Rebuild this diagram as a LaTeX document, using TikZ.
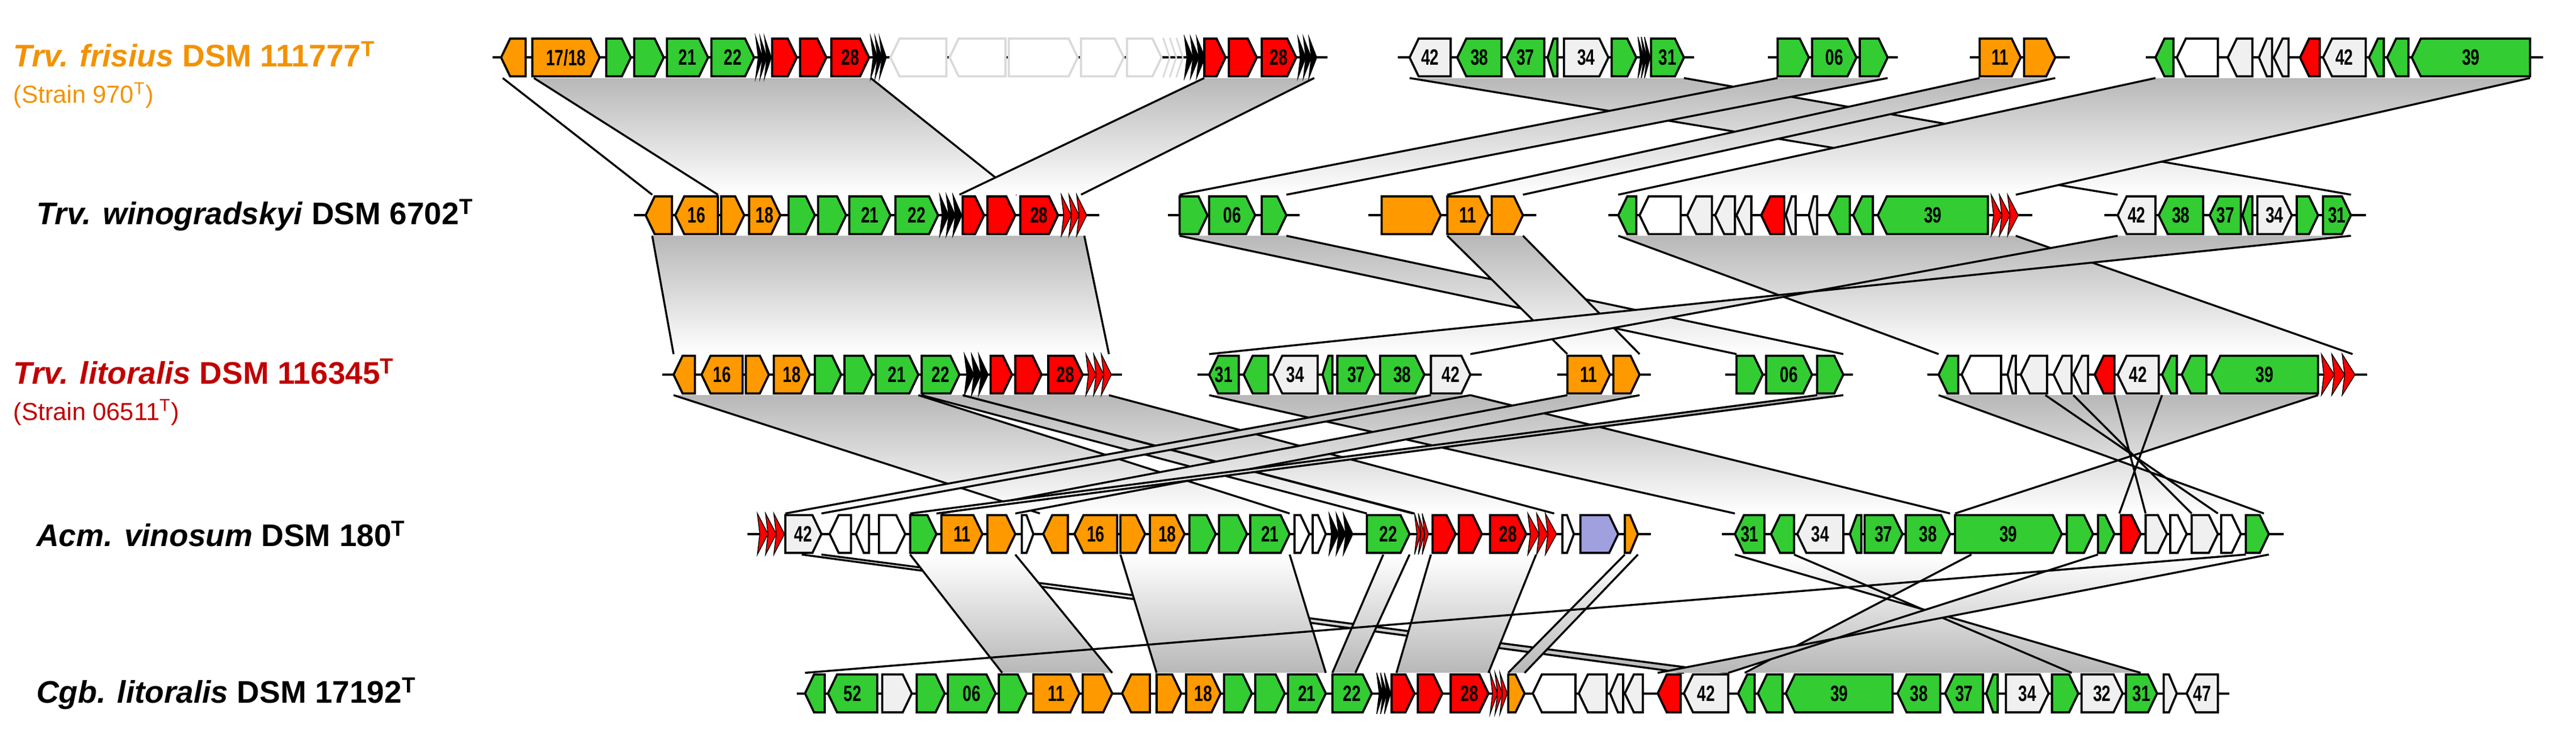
\documentclass[tikz,border=0pt]{standalone}
\usepackage{fontspec}
\setmainfont{Liberation Sans}
\definecolor{gG}{HTML}{33CC33}
\definecolor{gO}{HTML}{FF9900}
\definecolor{gR}{HTML}{FF0000}
\definecolor{gW}{HTML}{FFFFFF}
\definecolor{gP}{HTML}{F0F0F0}
\definecolor{gU}{HTML}{9FA0DD}
\definecolor{labO}{HTML}{F39200}
\definecolor{labR}{HTML}{C00000}
\tikzset{genestyle/.style={draw=black,line width=1.3pt,line join=miter},
 numlab/.style={font=\fontsize{13.5}{13.5}\selectfont\bfseries,inner sep=0pt},
 bandline/.style={line width=1.2pt},
 backbone/.style={line width=1.4pt},
 rowlab/.style={anchor=west,inner sep=0pt,font=\fontsize{19}{22}\selectfont\bfseries},
 sublab/.style={anchor=west,inner sep=0pt,font=\fontsize{15}{18}\selectfont}}
\newcommand\gene[6]{%
 \pgfmathsetmacro\gtl{min(5.5,(#2-#1)*0.6)}%
 \ifx r#4
 \draw[genestyle,fill=#5] (#1,#3-11.5) -- ({#2-\gtl},#3-11.5) -- (#2,#3) -- ({#2-\gtl},#3+11.5) -- (#1,#3+11.5) -- cycle;
 \else
 \draw[genestyle,fill=#5] (#2,#3-11.5) -- ({#1+\gtl},#3-11.5) -- (#1,#3) -- ({#1+\gtl},#3+11.5) -- (#2,#3+11.5) -- cycle;
 \fi
 \node[numlab] at ({(#1+#2)/2},#3) {\scalebox{0.72}[1]{#6}};}
\newcommand\spikes[4]{%
 \pgfmathsetmacro\sw{(#2-#1)/3}%
 \foreach \i in {0,1,2}{\filldraw[fill=#4,draw=black,line width=0.5pt] ({#1+\i*\sw},#3-12.5) -- ({#1+(\i+1)*\sw+1.5},#3) -- ({#1+\i*\sw},#3+12.5) -- ({#1+\i*\sw+1.5},#3) -- cycle;}}
\newcommand\band[6]{%
 \shade[top color=black!28,bottom color=white] (#3,#1+12.5) -- (#4,#1+12.5) -- (#6,#2-12.5) -- (#5,#2-12.5) -- cycle;
 \draw[bandline] (#3,#1+12.5) -- (#5,#2-12.5); \draw[bandline] (#4,#1+12.5) -- (#6,#2-12.5);}
\newcommand\bandu[6]{%
 \shade[top color=white,bottom color=black!28] (#3,#1+12.5) -- (#4,#1+12.5) -- (#6,#2-12.5) -- (#5,#2-12.5) -- cycle;
 \draw[bandline] (#3,#1+12.5) -- (#5,#2-12.5); \draw[bandline] (#4,#1+12.5) -- (#6,#2-12.5);}
\begin{document}
\begin{tikzpicture}[x=1pt,y=-1pt]
\useasboundingbox (0,0) rectangle (1568,452);
% ---------- bands row1-row2
\draw[bandline] (306,47.5) -- (397,118.5);
\band{35}{131}{325}{530}{437}{619}
\band{35}{131}{733}{800}{584}{658}
\band{35}{131}{858}{1025}{1289}{1431}
\band{35}{131}{1082}{1149}{718}{783}
\band{35}{131}{1205}{1251}{881}{927}
\band{35}{131}{1312}{1540}{985}{1227}
% ---------- row2-row3
\band{131}{228}{397}{660}{410}{675}
\band{131}{228}{718}{783}{1057}{1122}
\band{131}{228}{881}{927}{954}{998}
\band{131}{228}{985}{1227}{1180}{1432}
\band{131}{228}{1289}{1431}{895}{736}
% ---------- row3-row4
\band{228}{325}{410}{559}{633}{785}
\band{228}{325}{561}{586}{832}{860}
\band{228}{325}{586}{675}{861}{946}
\band{228}{325}{736}{895}{1056}{1187}
\band{228}{325}{954}{998}{573}{618}
\band{228}{325}{1106}{1122}{554}{570}
\band{228}{325}{871}{895}{478}{500}
\band{228}{325}{1180}{1411}{1378}{1190}
\draw[bandline] (1245,240.5) -- (1350,312.5);
\draw[bandline] (1262,240.5) -- (1334,312.5);
\draw[bandline] (1287,240.5) -- (1306,312.5);
\draw[bandline] (1316,240.5) -- (1290,312.5);
% ---------- row4-row5
\bandu{325}{422}{488}{500}{1025}{1052}
\bandu{325}{422}{554}{618}{610}{677}
\bandu{325}{422}{682}{785}{704}{807}
\bandu{325}{422}{842}{858}{811}{825}
\bandu{325}{422}{871}{935}{850}{906}
\bandu{325}{422}{989}{997}{918}{928}
\bandu{325}{422}{1056}{1200}{1303}{1062}
\draw[bandline] (1092,337.5) -- (1261,409.5);
\bandu{325}{422}{1277}{1381}{1052}{1009}
\draw[bandline] (1367,337.5) -- (490,409.5);
% ---------- backbones
\foreach \a/\b/\y in {300/808/35,851/1031/35,1076/1155/35,1199/1260/35,1306/1548/35,
 386/669/131,711/791/131,833/935/131,979/1237/131,1281/1440/131,
 403/683/228,729/902/228,948/1005/228,1050/1128/228,1173/1441/228,
 455/1005/325,1048/1390/325,485/1357/422}
 {\draw[backbone] (\a,\y) -- (\b,\y);}
% ---------- row 1
\gene{305}{320}{35}{l}{gO}{}
\gene{324}{365}{35}{r}{gO}{17/18}
\gene{369}{384}{35}{r}{gG}{}
\gene{386}{404}{35}{r}{gG}{}
\gene{406}{431}{35}{r}{gG}{21}
\gene{433}{459}{35}{r}{gG}{22}
\spikes{460}{468}{35}{black}
\gene{470}{485}{35}{r}{gR}{}
\gene{487}{503}{35}{r}{gR}{}
\gene{506}{529}{35}{r}{gR}{28}
\spikes{530}{538}{35}{black}
\begin{scope}[genestyle/.append style={draw=black!15}]
\gene{542}{576}{35}{l}{white}{}
\gene{578}{612}{35}{l}{white}{}
\gene{614}{656}{35}{r}{white}{}
\gene{658}{684}{35}{r}{white}{}
\gene{686}{707}{35}{r}{white}{}
\end{scope}
\foreach \i in {0,1,2}{\draw[black!15,line width=1pt] ({708+\i*4},23) -- ({712+\i*4},35) -- ({708+\i*4},47);}
\spikes{721}{732}{35}{black}
\gene{733}{746}{35}{r}{gR}{}
\gene{748}{765}{35}{r}{gR}{}
\gene{768}{789}{35}{r}{gR}{28}
\spikes{790}{800}{35}{black}
\gene{858}{883}{35}{l}{gP}{42}
\gene{887}{914}{35}{l}{gG}{38}
\gene{917}{940}{35}{l}{gG}{37}
\gene{942}{948}{35}{l}{gG}{}
\gene{952}{979}{35}{r}{gP}{34}
\gene{981}{996}{35}{r}{gG}{}
\spikes{997}{1003}{35}{black}
\gene{1005}{1025}{35}{r}{gG}{31}
\gene{1082}{1101}{35}{r}{gG}{}
\gene{1103}{1130}{35}{r}{gG}{06}
\gene{1132}{1149}{35}{r}{gG}{}
\gene{1205}{1230}{35}{r}{gO}{11}
\gene{1232}{1251}{35}{r}{gO}{}
\gene{1312}{1323}{35}{l}{gG}{}
\gene{1325}{1350}{35}{l}{gW}{}
\gene{1356}{1371}{35}{l}{gP}{}
\gene{1375}{1383}{35}{l}{gP}{}
\gene{1384}{1393}{35}{l}{gP}{}
\gene{1400}{1412}{35}{l}{gR}{}
\gene{1414}{1440}{35}{l}{gP}{42}
\gene{1442}{1451}{35}{l}{gG}{}
\gene{1453}{1466}{35}{l}{gG}{}
\gene{1468}{1540}{35}{l}{gG}{39}
% ---------- row 2
\gene{393}{409}{131}{l}{gO}{}
\gene{411}{437}{131}{l}{gO}{16}
\gene{439}{453}{131}{r}{gO}{}
\gene{456}{475}{131}{r}{gO}{18}
\gene{480}{496}{131}{r}{gG}{}
\gene{498}{515}{131}{r}{gG}{}
\gene{517}{542}{131}{r}{gG}{21}
\gene{545}{571}{131}{r}{gG}{22}
\spikes{572}{584}{131}{black}
\gene{586}{599}{131}{r}{gR}{}
\gene{601}{618}{131}{r}{gR}{}
\gene{621}{644}{131}{r}{gR}{28}
\spikes{646}{660}{131}{gR}
\gene{718}{735}{131}{r}{gG}{}
\gene{736}{764}{131}{r}{gG}{06}
\gene{768}{783}{131}{r}{gG}{}
\gene{841}{877}{131}{r}{gO}{}
\gene{881}{906}{131}{r}{gO}{11}
\gene{908}{927}{131}{r}{gO}{}
\gene{985}{996}{131}{l}{gG}{}
\gene{998}{1023}{131}{l}{gW}{}
\gene{1027}{1042}{131}{l}{gP}{}
\gene{1044}{1056}{131}{l}{gP}{}
\gene{1057}{1066}{131}{l}{gP}{}
\gene{1072}{1086}{131}{l}{gR}{}
\gene{1087}{1093}{131}{l}{gP}{}
\gene{1101}{1106}{131}{l}{gP}{}
\gene{1113}{1126}{131}{l}{gG}{}
\gene{1128}{1140}{131}{l}{gG}{}
\gene{1143}{1210}{131}{l}{gG}{39}
\spikes{1212}{1227}{131}{gR}
\gene{1289}{1312}{131}{l}{gP}{42}
\gene{1314}{1341}{131}{l}{gG}{38}
\gene{1345}{1364}{131}{l}{gG}{37}
\gene{1365}{1371}{131}{l}{gG}{}
\gene{1374}{1395}{131}{r}{gP}{34}
\gene{1398}{1411}{131}{r}{gG}{}
\gene{1414}{1431}{131}{r}{gG}{31}
% ---------- row 3
\gene{410}{423}{228}{l}{gO}{}
\gene{427}{452}{228}{l}{gO}{16}
\gene{454}{468}{228}{r}{gO}{}
\gene{471}{493}{228}{r}{gO}{18}
\gene{496}{512}{228}{r}{gG}{}
\gene{514}{531}{228}{r}{gG}{}
\gene{533}{559}{228}{r}{gG}{21}
\gene{561}{584}{228}{r}{gG}{22}
\spikes{587}{600}{228}{black}
\gene{603}{616}{228}{r}{gR}{}
\gene{618}{634}{228}{r}{gR}{}
\gene{638}{659}{228}{r}{gR}{28}
\spikes{661}{675}{228}{gR}
\gene{736}{754}{228}{l}{gG}{31}
\gene{757}{772}{228}{l}{gG}{}
\gene{775}{802}{228}{l}{gP}{34}
\gene{805}{811}{228}{l}{gG}{}
\gene{814}{837}{228}{r}{gG}{37}
\gene{840}{867}{228}{r}{gG}{38}
\gene{871}{895}{228}{r}{gP}{42}
\gene{954}{980}{228}{r}{gO}{11}
\gene{982}{998}{228}{r}{gO}{}
\gene{1057}{1073}{228}{r}{gG}{}
\gene{1075}{1103}{228}{r}{gG}{06}
\gene{1106}{1122}{228}{r}{gG}{}
\gene{1180}{1192}{228}{l}{gG}{}
\gene{1194}{1218}{228}{l}{gW}{}
\gene{1222}{1227}{228}{l}{gP}{}
\gene{1230}{1246}{228}{l}{gP}{}
\gene{1250}{1261}{228}{l}{gP}{}
\gene{1262}{1271}{228}{l}{gP}{}
\gene{1275}{1287}{228}{l}{gR}{}
\gene{1289}{1314}{228}{l}{gP}{42}
\gene{1316}{1325}{228}{l}{gG}{}
\gene{1328}{1343}{228}{l}{gG}{}
\gene{1346}{1411}{228}{l}{gG}{39}
\spikes{1413}{1432}{228}{gR}
% ---------- row 4
\spikes{461}{476}{325}{gR}
\gene{478}{500}{325}{r}{gP}{42}
\gene{505}{518}{325}{l}{gW}{}
\gene{521}{529}{325}{l}{gW}{}
\gene{535}{551}{325}{r}{gW}{}
\gene{554}{570}{325}{r}{gG}{}
\gene{573}{598}{325}{r}{gO}{11}
\gene{601}{618}{325}{r}{gO}{}
\gene{622}{629}{325}{r}{gW}{}
\gene{635}{650}{325}{l}{gO}{}
\gene{654}{680}{325}{l}{gO}{16}
\gene{682}{697}{325}{r}{gO}{}
\gene{700}{721}{325}{r}{gO}{18}
\gene{724}{740}{325}{r}{gG}{}
\gene{742}{759}{325}{r}{gG}{}
\gene{761}{785}{325}{r}{gG}{21}
\gene{788}{797}{325}{r}{gW}{}
\gene{799}{807}{325}{r}{gW}{}
\spikes{809}{822}{325}{black}
\gene{832}{858}{325}{r}{gG}{22}
\spikes{861}{868}{325}{gR}
\gene{872}{886}{325}{r}{gR}{}
\gene{888}{902}{325}{r}{gR}{}
\gene{907}{929}{325}{r}{gR}{28}
\spikes{930}{946}{325}{gR}
\gene{951}{958}{325}{r}{gW}{}
\gene{962}{985}{325}{r}{gU}{}
\gene{989}{997}{325}{r}{gO}{}
\gene{1056}{1074}{325}{l}{gG}{31}
\gene{1078}{1092}{325}{l}{gG}{}
\gene{1094}{1122}{325}{l}{gP}{34}
\gene{1126}{1133}{325}{l}{gG}{}
\gene{1135}{1158}{325}{r}{gG}{37}
\gene{1160}{1187}{325}{r}{gG}{38}
\gene{1190}{1255}{325}{r}{gG}{39}
\gene{1258}{1274}{325}{r}{gG}{}
\gene{1277}{1287}{325}{r}{gG}{}
\gene{1291}{1303}{325}{r}{gR}{}
\gene{1306}{1319}{325}{r}{gP}{}
\gene{1321}{1331}{325}{r}{gW}{}
\gene{1334}{1350}{325}{r}{gP}{}
\gene{1352}{1364}{325}{r}{gW}{}
\gene{1367}{1381}{325}{r}{gG}{}
% ---------- row 5
\gene{490}{502}{422}{l}{gG}{}
\gene{504}{534}{422}{l}{gG}{52}
\gene{537}{555}{422}{r}{gP}{}
\gene{558}{575}{422}{r}{gG}{}
\gene{577}{606}{422}{r}{gG}{06}
\gene{608}{625}{422}{r}{gG}{}
\gene{629}{657}{422}{r}{gO}{11}
\gene{659}{677}{422}{r}{gO}{}
\gene{683}{700}{422}{l}{gO}{}
\gene{704}{719}{422}{r}{gO}{}
\gene{722}{743}{422}{r}{gO}{18}
\gene{745}{762}{422}{r}{gG}{}
\gene{764}{782}{422}{r}{gG}{}
\gene{784}{807}{422}{r}{gG}{21}
\gene{811}{835}{422}{r}{gG}{22}
\spikes{838}{845}{422}{black}
\gene{847}{861}{422}{r}{gR}{}
\gene{863}{878}{422}{r}{gR}{}
\gene{883}{906}{422}{r}{gR}{28}
\spikes{907}{916}{422}{gR}
\gene{918}{928}{422}{r}{gO}{}
\gene{933}{959}{422}{l}{gW}{}
\gene{961}{978}{422}{l}{gP}{}
\gene{980}{988}{422}{l}{gP}{}
\gene{989}{1000}{422}{l}{gP}{}
\gene{1009}{1023}{422}{l}{gR}{}
\gene{1025}{1052}{422}{l}{gP}{42}
\gene{1058}{1068}{422}{l}{gG}{}
\gene{1070}{1085}{422}{l}{gG}{}
\gene{1087}{1152}{422}{l}{gG}{39}
\gene{1155}{1181}{422}{l}{gG}{38}
\gene{1184}{1207}{422}{l}{gG}{37}
\gene{1209}{1216}{422}{l}{gG}{}
\gene{1221}{1247}{422}{r}{gP}{34}
\gene{1249}{1265}{422}{r}{gG}{}
\gene{1267}{1292}{422}{r}{gP}{32}
\gene{1294}{1313}{422}{r}{gG}{31}
\gene{1317}{1325}{422}{r}{gP}{}
\gene{1331}{1350}{422}{l}{gP}{47}
% ---------- labels
\node[rowlab,text=labO] (l1) at (8,33) {\textit{Trv. frisius} DSM 111777\textsuperscript{T}};
\node[sublab,text=labO] (s1) at (8,58) {(Strain 970\textsuperscript{T})};
\node[rowlab] (l2) at (22,131) {\textit{Trv. winogradskyi} DSM 6702\textsuperscript{T}};
\node[rowlab,text=labR] (l3) at (8,226) {\textit{Trv. litoralis} DSM 116345\textsuperscript{T}};
\node[sublab,text=labR] (s3) at (8,251) {(Strain 06511\textsuperscript{T})};
\node[rowlab] (l4) at (22,325) {\textit{Acm. vinosum} DSM 180\textsuperscript{T}};
\node[rowlab] (l5) at (22,422) {\textit{Cgb. litoralis} DSM 17192\textsuperscript{T}};
\end{tikzpicture}
\end{document}
